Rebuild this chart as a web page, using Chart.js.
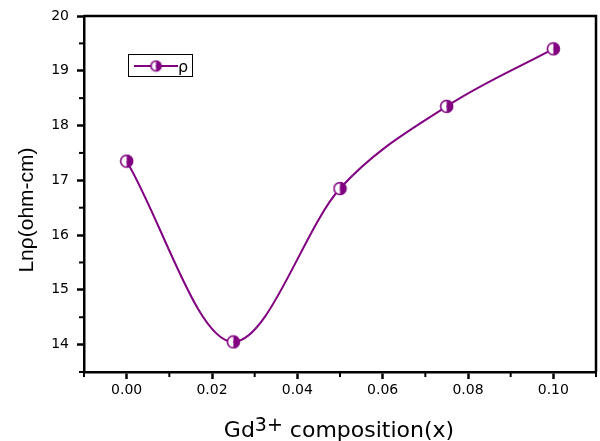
<!DOCTYPE html>
<html>
<head>
<meta charset="utf-8">
<script src="https://cdn.jsdelivr.net/npm/chart.js@4/dist/chart.umd.min.js"></script>
<style>
  body { margin: 0; background: #fff; }
  canvas { display: block; }
</style>
</head>
<body>
<canvas id="chart" width="600" height="441"></canvas>
<script>
// data
const composition = [0, 0.025, 0.05, 0.075, 0.1];
const lnRho = [17.35, 14.05, 16.85, 18.35, 19.4];
const xTicks = [0, 0.02, 0.04, 0.06, 0.08, 0.1];
const xMinorTicks = [-0.01, 0.01, 0.03, 0.05, 0.07, 0.09, 0.11];
const yTicks = [14, 15, 16, 17, 18, 19, 20];
const yMinorTicks = [13.5, 14.5, 15.5, 16.5, 17.5, 18.5, 19.5];

const PURPLE = '#800080';

// half filled circle, like the Origin marker
function halfMarker(r) {
  const c = document.createElement('canvas');
  const s = Math.ceil(r * 2 + 2);
  c.width = s; c.height = s;
  const g = c.getContext('2d');
  const m = s / 2;
  g.fillStyle = '#fff';
  g.beginPath(); g.arc(m, m, r, Math.PI / 2, Math.PI * 1.5); g.fill();
  g.fillStyle = PURPLE;
  g.beginPath(); g.arc(m, m, r, -Math.PI / 2, Math.PI / 2); g.fill();
  g.strokeStyle = PURPLE; g.lineWidth = 1.6;
  g.beginPath(); g.arc(m, m, r - 0.5, 0, Math.PI * 2); g.stroke();
  return c;
}
const marker = halfMarker(6.5);
const legendMarker = halfMarker(5.5);

// frame, minor ticks, legend and axis titles
const extras = {
  id: 'extras',
  afterDraw(chart) {
    const ctx = chart.ctx;
    const a = chart.chartArea;
    const xs = chart.scales.x, ys = chart.scales.y;
    ctx.save();
    ctx.strokeStyle = '#000';
    ctx.lineWidth = 2.5;
    ctx.beginPath();
    ctx.moveTo(a.left, a.top); ctx.lineTo(a.right, a.top); ctx.lineTo(a.right, a.bottom);
    ctx.stroke();
    ctx.lineWidth = 2;
    xMinorTicks.forEach(v => {
      const px = xs.getPixelForValue(v);
      ctx.beginPath(); ctx.moveTo(px, a.bottom); ctx.lineTo(px, a.bottom + 5); ctx.stroke();
    });
    yMinorTicks.forEach(v => {
      const py = ys.getPixelForValue(v);
      ctx.beginPath(); ctx.moveTo(a.left, py); ctx.lineTo(a.left - 5, py); ctx.stroke();
    });

    // legend
    ctx.lineWidth = 1;
    ctx.strokeRect(128.5, 54.5, 64, 22);
    ctx.strokeStyle = PURPLE;
    ctx.lineWidth = 2;
    ctx.beginPath(); ctx.moveTo(134, 66); ctx.lineTo(178, 66); ctx.stroke();
    ctx.drawImage(legendMarker, 156 - legendMarker.width / 2, 66 - legendMarker.height / 2);
    ctx.fillStyle = '#000';
    ctx.font = '16px "DejaVu Sans"';
    ctx.textBaseline = 'alphabetic';
    ctx.fillText('ρ', 178, 72);

    // x title with superscript
    const big = '22px "DejaVu Sans"', small = '19px "DejaVu Sans"';
    ctx.font = big; const w1 = ctx.measureText('Gd').width;
    ctx.font = small; const w2 = ctx.measureText('3+').width;
    ctx.font = big; const w3 = ctx.measureText(' composition(x)').width;
    const x0 = 339 - (w1 + w2 + w3) / 2;
    const base = 437;
    ctx.font = big; ctx.fillText('Gd', x0, base);
    ctx.font = small; ctx.fillText('3+', x0 + w1, base - 6);
    ctx.font = big; ctx.fillText(' composition(x)', x0 + w1 + w2, base);

    // y title
    ctx.translate(33, 210);
    ctx.rotate(-Math.PI / 2);
    ctx.font = '21px "Liberation Sans"';
    ctx.textAlign = 'center';
    ctx.fillText('Lnρ(ohm-cm)', 0, 0);
    ctx.restore();
  }
};

const tickFont = { family: 'DejaVu Sans', size: 14 };

new Chart(document.getElementById('chart'), {
  type: 'scatter',
  data: {
    datasets: [{
      label: 'ρ',
      data: composition.map((x, i) => ({ x: x, y: lnRho[i] })),
      showLine: true,
      borderColor: PURPLE,
      borderWidth: 2,
      cubicInterpolationMode: 'monotone',
      pointStyle: marker,
      pointRadius: 6.5
    }]
  },
  options: {
    responsive: false,
    animation: false,
    devicePixelRatio: 1,
    layout: { autoPadding: false, padding: { top: 16, right: 4, left: 0, bottom: 0 } },
    plugins: { legend: { display: false }, tooltip: { enabled: false } },
    scales: {
      x: {
        type: 'linear',
        min: -0.01,
        max: 0.11,
        afterFit: s => { s.height = 69; s.paddingLeft = 0; s.paddingRight = 0; },
        afterBuildTicks: s => { s.ticks = xTicks.map(v => ({ value: v })); },
        ticks: { callback: v => v.toFixed(2), font: tickFont, color: '#000', padding: 3, maxRotation: 0 },
        grid: { drawOnChartArea: false, tickLength: 7, tickWidth: 2.5, tickColor: '#000' },
        border: { color: '#000', width: 2.5 }
      },
      y: {
        min: 13.5,
        max: 20,
        afterFit: s => { s.width = 84; s.paddingTop = 0; s.paddingBottom = 0; },
        afterBuildTicks: s => { s.ticks = yTicks.map(v => ({ value: v })); },
        ticks: { callback: v => String(v), font: tickFont, color: '#000', padding: 8 },
        grid: { drawOnChartArea: false, tickLength: 7, tickWidth: 2.5, tickColor: '#000' },
        border: { color: '#000', width: 2.5 }
      }
    }
  },
  plugins: [extras]
});
</script>
</body>
</html>
